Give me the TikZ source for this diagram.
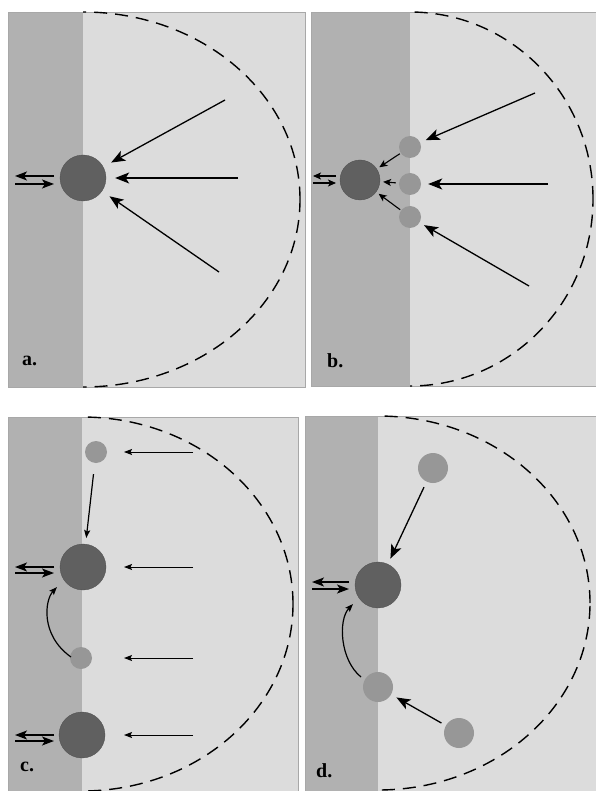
\documentclass[tikz,border=0pt]{standalone}
\usepackage{fontspec}
\setmainfont{Liberation Serif}
\usetikzlibrary{arrows.meta}
\definecolor{strip}{HTML}{B1B1B1}
\definecolor{field}{HTML}{DCDCDC}
\definecolor{bigc}{HTML}{606060}
\definecolor{smallc}{HTML}{979797}
\definecolor{frame}{HTML}{A8A8A8}
\tikzset{
  bigdot/.style={circle,inner sep=0pt,minimum size=46pt,fill=bigc,draw=bigc!80!black,line width=0.3pt},
  smalldot/.style={circle,inner sep=0pt,minimum size=22pt,fill=smallc},
  middot/.style={circle,inner sep=0pt,minimum size=30pt,fill=smallc},
  bigarr/.style={line width=1.3pt,-{Stealth[length=14pt,width=11pt,inset=3.5pt]}},
  xarr/.style={line width=1.4pt,-{Stealth[length=12pt,width=9pt,inset=3pt]}},
  thinarr/.style={line width=1pt,-{Stealth[length=8pt,width=6pt,inset=1.5pt]}},
  tinyarr/.style={line width=1.1pt,-{Stealth[length=8pt,width=7pt,inset=2pt]}},
  halo/.style={dash pattern=on 13pt off 8pt,line width=1.4pt},
  lab/.style={font=\bfseries\fontsize{20}{20}\selectfont,anchor=base west,inner sep=0pt},
}
\begin{document}
\begin{tikzpicture}[x=1pt,y=-1pt]
\useasboundingbox (0,0) rectangle (595,791);
\fill[white] (0,0) rectangle (595,791);
% ---------- panel a ----------
\fill[field] (8,12) rectangle (305,387);
\fill[strip] (8,12) rectangle (83,387);
\draw[frame,line width=0.6pt] (8,12) rectangle (305,387);
\begin{scope}
\clip (83,0) rectangle (306,395);
\draw[halo] (83,199.5) ellipse [x radius=217pt,y radius=187.5pt];
\end{scope}
\node[bigdot] (A) at (83,178) {};
\coordinate (a1) at (225,100);
\coordinate (a2) at (238,178);
\coordinate (a3) at (219,272);
\draw[bigarr,shorten >=9pt] (a1) -- (A);
\draw[bigarr,shorten >=9pt] (a2) -- (A);
\draw[bigarr,shorten >=9pt] (a3) -- (A);
\coordinate (ao1) at (15,176);
\coordinate (ai1) at (15,184);
\draw[xarr] (54,176) coordinate (ax1) -- (ao1);
\draw[xarr] (ai1) -- (54,184) coordinate (ax2);
\node[lab] (la) at (22,365) {a.};
% ---------- panel b ----------
\fill[field] (311,12) rectangle (597,386);
\fill[strip] (311,12) rectangle (410,386);
\draw[frame,line width=0.6pt] (311,12) rectangle (597,386);
\begin{scope}
\clip (410,0) rectangle (597,395);
\draw[halo] (410,199) ellipse [x radius=183pt,y radius=187pt];
\end{scope}
\node[bigdot,minimum size=40pt] (B) at (360,180) {};
\node[smalldot] (B1) at (410,147) {};
\node[smalldot] (B2) at (410,184) {};
\node[smalldot] (B3) at (410,217) {};
\coordinate (b1) at (535,93);
\coordinate (b2) at (548,184);
\coordinate (b3) at (529,286);
\draw[bigarr,shorten >=6pt] (b1) -- (B1);
\draw[bigarr,shorten >=7pt] (b2) -- (B2);
\draw[bigarr,shorten >=5pt] (b3) -- (B3);
\draw[tinyarr,shorten <=1pt,shorten >=3pt] (B1) -- (B);
\draw[tinyarr,shorten <=3pt,shorten >=3pt] (B2) -- (B);
\draw[tinyarr,shorten <=1pt,shorten >=3pt] (B3) -- (B);
\coordinate (bo1) at (313,176);
\coordinate (bi1) at (313,183);
\draw[tinyarr] (336,176) coordinate (bx1) -- (bo1);
\draw[tinyarr] (bi1) -- (336,183) coordinate (bx2);
\node[lab] (lb) at (327,367) {b.};
% ---------- panel c ----------
\fill[field] (8,417) rectangle (298,791);
\fill[strip] (8,417) rectangle (82,791);
\draw[frame,line width=0.6pt] (8,417) rectangle (298,795);
\begin{scope}
\clip (82,410) rectangle (298,791);
\draw[halo] (82,604) ellipse [x radius=211pt,y radius=187pt];
\end{scope}
\node[smalldot] (C1) at (96,452) {};
\node[bigdot] (C2) at (83,567) {};
\node[smalldot] (C3) at (81,658) {};
\node[bigdot] (C4) at (82,735) {};
\foreach \y/\n in {452/c1,567/c2,658/c3,735/c4}{
  \coordinate (\n s) at (193,\y);
  \coordinate (\n e) at (124,\y);
  \draw[thinarr] (\n s) -- (\n e);
}
\draw[thinarr,line width=1.2pt,shorten <=11pt,shorten >=6pt] (C1) -- (C2);
\coordinate (cc0) at (71,657);
\coordinate (cc1) at (57,587);
\draw[thinarr,line width=1.2pt] (cc0) .. controls (40,635) and (45,600) .. (cc1);
\foreach \y/\n in {567/c5,735/c6}{
  \coordinate (\n o) at (15,\y);
  \coordinate (\n i) at (15,\y+6);
  \draw[xarr] (54,\y) -- (\n o);
  \draw[xarr] (\n i) -- (54,\y+6);
}
\node[lab] (lc) at (20,771) {c.};
% ---------- panel d ----------
\fill[field] (305,416) rectangle (597,791);
\fill[strip] (305,416) rectangle (378,791);
\draw[frame,line width=0.6pt] (305,416) rectangle (597,795);
\begin{scope}
\clip (378,410) rectangle (597,791);
\draw[halo] (378,603) ellipse [x radius=212pt,y radius=187pt];
\end{scope}
\node[middot] (D1) at (433,468) {};
\node[bigdot] (D2) at (378,585) {};
\node[middot] (D3) at (378,687) {};
\node[middot] (D4) at (459,733) {};
\draw[bigarr,shorten <=6pt,shorten >=6pt] (D1) -- (D2);
\draw[bigarr,shorten <=5pt,shorten >=6pt] (D4) -- (D3);
\coordinate (dd0) at (361,677);
\coordinate (dd1) at (353,604);
\draw[thinarr,line width=1.2pt] (dd0) .. controls (340,660) and (338,620) .. (dd1);
\coordinate (do1) at (312,582);
\coordinate (di1) at (312,589);
\draw[xarr] (349,582) -- (do1);
\draw[xarr] (di1) -- (349,589);
\node[lab] (ld) at (316,777) {d.};
\end{tikzpicture}
\end{document}
